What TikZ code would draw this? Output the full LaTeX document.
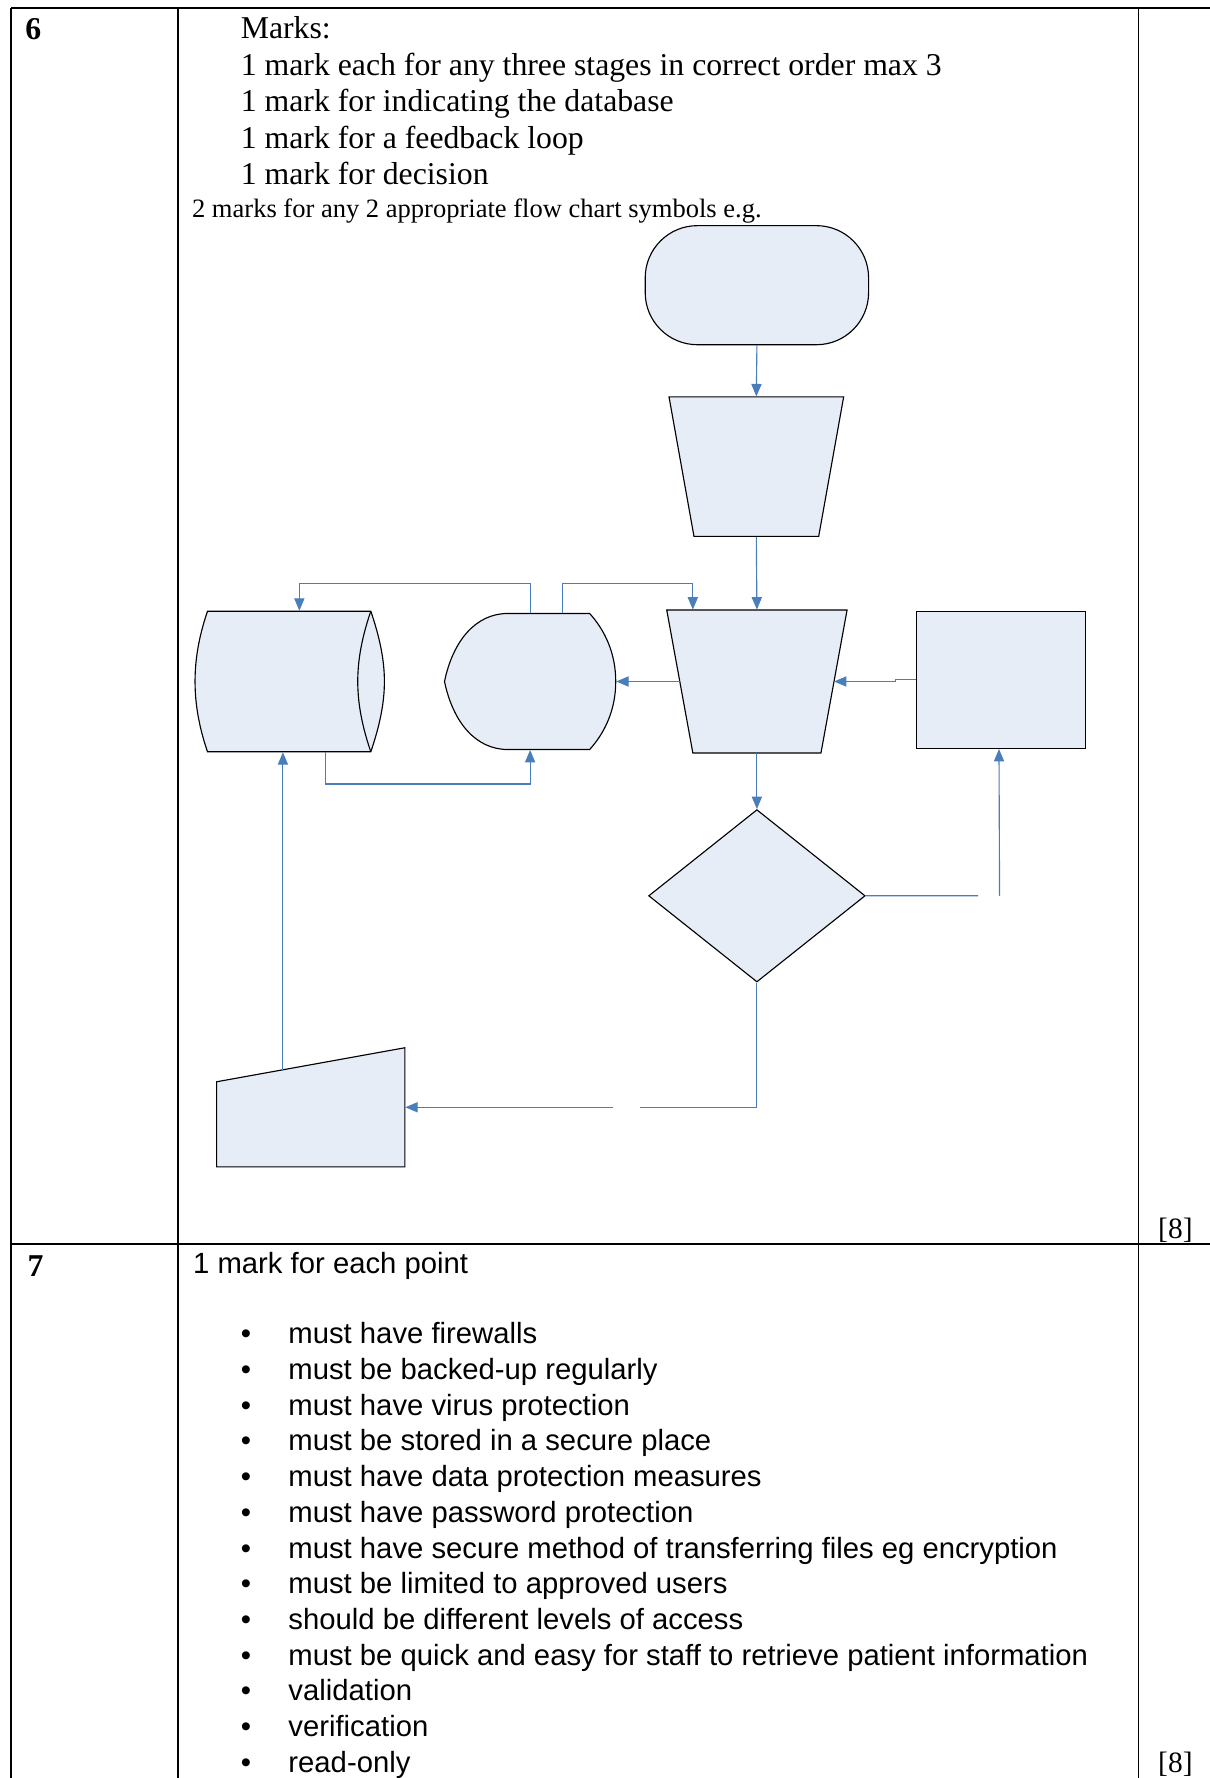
\documentclass[tikz,border=0pt]{standalone}
\usepackage{fontspec}
\setmainfont{Liberation Serif}
\setsansfont{Liberation Sans}
\usepackage{tikz}
\usetikzlibrary{shapes.geometric, arrows.meta, calc}
\definecolor{ShapeFill}{RGB}{230,237,247}
\definecolor{LineBlue}{RGB}{74,126,187}

\begin{document}
\begin{tikzpicture}[x=0.5pt, y=-0.5pt,
  rule/.style={line width=0.8pt},
  numtxt/.style={anchor=base west, inner sep=0pt, font=\fontsize{14}{16}\selectfont\bfseries},
  marktxt/.style={anchor=base west, inner sep=0pt, font=\fontsize{14}{16}\selectfont},
  smalltxt/.style={anchor=base west, inner sep=0pt, font=\fontsize{11.7}{14}\selectfont},
  pointtxt/.style={anchor=base west, inner sep=0pt, font=\sffamily\fontsize{12.9}{15}\selectfont},
  bullettxt/.style={anchor=base, inner sep=0pt, font=\sffamily\fontsize{12.9}{15}\selectfont},
  flow/.style={draw=black, fill=ShapeFill, line width=0.5pt, inner sep=0pt},
  term/.style={flow, rounded corners=23pt, minimum width=98.5pt, minimum height=52.5pt},
  holder/.style={inner sep=0pt},
  arr/.style={-{Triangle[length=5.5pt,width=4.5pt]}, LineBlue, line width=0.5pt},
]
\useasboundingbox (0,0) rectangle (1067,1568);

% table rules
\draw[rule] (10,7) -- (1067,7);
\draw[rule] (10,1097) -- (1067,1097);
\draw[rule] (10,7) -- (10,1568);
\draw[rule] (157,7) -- (157,1568);
\draw[rule] (1004,7) -- (1004,1568);

% question 6
\node[numtxt] (q6) at (22,35) {6};
\foreach \ln [count=\i from 0] in {Marks:,
  1 mark each for any three stages in correct order max 3,
  1 mark for indicating the database,
  1 mark for a feedback loop,
  1 mark for decision}
{
  \node[marktxt] (mk\i) at (212, 34+32.25*\i) {\ln};
}
\node[smalltxt] (eg) at (169,192) {2 marks for any 2 appropriate flow chart symbols e.g.};
\node[marktxt, font=\fontsize{13}{16}\selectfont] (tot6) at (1021,1092) {[8]};

% flow chart symbols
\node[term] (start) at (667.5,251.5) {};
\node[holder, minimum width=77pt, minimum height=61.5pt] (op1) at (667,411.5) {};
\node[holder, minimum width=79.5pt, minimum height=63pt] (op2) at (667.5,601) {};
\node[flow, minimum width=74.5pt, minimum height=60.5pt] (proc) at (882.5,599.5) {};
\node[flow, diamond, minimum width=95.5pt, minimum height=76pt] (dec) at (667.5,790) {};
\node[holder, minimum width=75.5pt, minimum height=60pt] (disp) at (467.5,601) {};
\node[holder, minimum width=83.5pt, minimum height=62pt] (store) at (255.5,601) {};
\node[holder, minimum width=83pt, minimum height=52.5pt] (minput) at (274,976.5) {};

% manual operations
\draw[flow, shift={(op1.center)}] (-77,-61.5) -- (77,-61.5) -- (55,61.5) -- (-55,61.5) -- cycle;
\draw[flow, shift={(op2.center)}] (-79.5,-63) -- (79.5,-63) -- (56.5,63) -- (-56.5,63) -- cycle;
\coordinate (op2e) at ($(op2.center)+(68,0)$);
\coordinate (op2w) at ($(op2.center)+(-68,0)$);
% display
\draw[flow, shift={(disp.center)}] (-75.5,0) .. controls (-68,-36) and (-48,-60) .. (-19.5,-60)
  -- (52.5,-60) .. controls (66,-45) and (75.5,-25) .. (75.5,0)
  .. controls (75.5,25) and (66,45) .. (52.5,60) -- (-19.5,60)
  .. controls (-48,60) and (-68,36) .. cycle;
% stored data
\draw[flow, shift={(store.center)}] (-72.5,-62) -- (71.5,-62)
  .. controls (79,-40) and (83.5,-20) .. (83.5,0)
  .. controls (83.5,20) and (79,40) .. (71.5,62) -- (-72.5,62)
  .. controls (-80,40) and (-83.5,20) .. (-83.5,0)
  .. controls (-83.5,-20) and (-80,-40) .. cycle;
\draw[line width=0.5pt, shift={(store.center)}] (71.5,-62)
  .. controls (64,-40) and (60,-20) .. (60,0)
  .. controls (60,20) and (64,40) .. (71.5,62);
% manual input
\draw[flow, shift={(minput.center)}] (-83,52.5) -- (-83,-22.5) -- (83,-52.5) -- (83,52.5) -- cycle;
\coordinate (minup) at ($(minput.center)+(-24.5,-33)$);

% connectors
\draw[arr] (start.south) -- (op1.north);
\draw[arr] (op1.south) -- (op2.north);
\draw[arr] (op2.south) -- (dec.north);
\draw[arr] (proc.west) -- ++(-18,0) |- (op2e);
\draw[arr] (op2w) -- (disp.east);
\draw[arr] (disp.north) -- ++(0,-26) -| ($(store.north)+(8.5,0)$);
\draw[arr] ($(disp.north)+(28.5,0)$) -- ++(0,-26) -| ($(op2.north)+(-56.5,0)$);
\draw[arr] ($(store.south)+(31.5,0)$) -- ++(0,28) -| (disp.south);
\draw[arr] (dec.east) -- ++(99,0) ++(19,0) -- ($(proc.south)+(-1.5,0)$);
\draw[arr] (dec.south) -- ++(0,110) -- ++(-103.5,0) ++(-23,0) -- (minput.east);
\draw[arr] (minup) -- (minup |- store.south);

% question 7
\node[numtxt] (q7) at (24,1126) {7};
\node[pointtxt] (each) at (170,1123) {1 mark for each point};
\foreach \ln [count=\i from 0] in {must have firewalls,
  must be backed-up regularly,
  must have virus protection,
  must be stored in a secure place,
  must have data protection measures,
  must have password protection,
  must have secure method of transferring files eg encryption,
  must be limited to approved users,
  should be different levels of access,
  must be quick and easy for staff to retrieve patient information,
  validation,
  verification,
  read-only}
{
  \node[bullettxt] (bl\i) at (217, 1185+31.5*\i) {\textbullet};
  \node[pointtxt] (pt\i) at (254, 1185+31.5*\i) {\ln};
}
\node[marktxt, font=\fontsize{13}{16}\selectfont] (tot7) at (1021,1563) {[8]};
\end{tikzpicture}
\end{document}
